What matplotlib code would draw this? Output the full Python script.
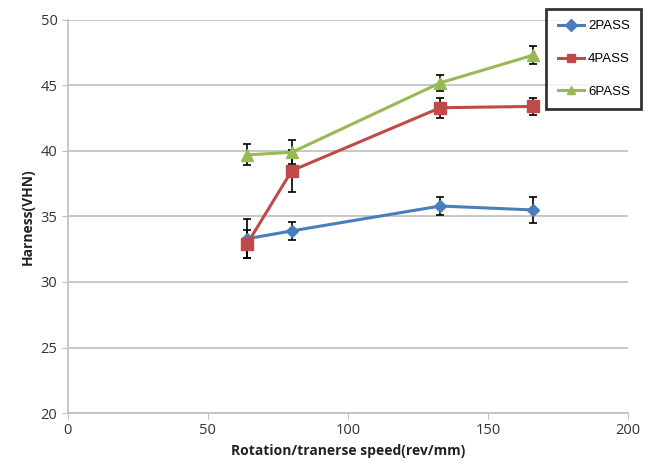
import matplotlib
matplotlib.use("Agg")
import matplotlib.pyplot as plt

plt.rcParams['font.family'] = ['Open Sans', 'DejaVu Sans']

speed = [64, 80, 133, 166]
pass2 = [33.3, 33.9, 35.8, 35.5]
pass2_err = [1.5, 0.7, 0.65, 1.0]
pass4 = [32.9, 38.5, 43.3, 43.4]
pass4_err = [1.1, 1.6, 0.75, 0.65]
pass6 = [39.7, 39.9, 45.2, 47.3]
pass6_err = [0.8, 0.9, 0.6, 0.7]
labels = ['2PASS', '4PASS', '6PASS']

fig = plt.figure(figsize=(6.52, 4.75), dpi=100)
ax = fig.add_axes([0.104, 0.1305, 0.859, 0.8275])

series = [
    (pass2, pass2_err, '#4A7EBB', 'D', 6),
    (pass4, pass4_err, '#BE4B48', 's', 8),
    (pass6, pass6_err, '#98B954', '^', 8),
]
handles = []
for (vals, err, col, mk, ms), lab in zip(series, labels):
    ax.errorbar(speed, vals, yerr=err, fmt='none', ecolor='black', elinewidth=1.2,
                capsize=3, capthick=1.2, zorder=2)
    h, = ax.plot(speed, vals, color=col, marker=mk, markersize=ms, linewidth=2.2,
                 label=lab, zorder=3)
    handles.append(h)

ax.set_xlim(0, 200)
ax.set_ylim(20, 50)
ax.set_xticks([0, 50, 100, 150, 200])
ax.set_yticks([20, 25, 30, 35, 40, 45, 50])
ax.yaxis.grid(True, color='#BFBFBF', linewidth=1.2)
ax.set_axisbelow(True)
for s in ['top', 'right']:
    ax.spines[s].set_visible(False)
for s in ['left', 'bottom']:
    ax.spines[s].set_color('#BFBFBF')
    ax.spines[s].set_linewidth(1.2)
ax.tick_params(axis='both', colors='#BFBFBF', labelcolor='#333333', labelsize=10.5, length=4)
ax.set_xlabel('Rotation/tranerse speed(rev/mm)', fontsize=10, fontweight='bold', color='#222222')
ax.set_ylabel('Harness(VHN)', fontsize=10, fontweight='bold', color='#222222')

leg = fig.legend(handles=handles, loc='upper right', bbox_to_anchor=(641/652, 1 - 9/475),
                 frameon=True, fancybox=False, edgecolor='black',
                 prop={'family': ['Liberation Sans'], 'size': 9.5},
                 handlelength=2.0, handletextpad=0.3, labelspacing=1.55, borderpad=0.85,
                 borderaxespad=0)
leg.get_frame().set_linewidth(2)
for lh in leg.get_lines():
    lh.set_markersize(6)

fig.savefig('out.png', dpi=100)
